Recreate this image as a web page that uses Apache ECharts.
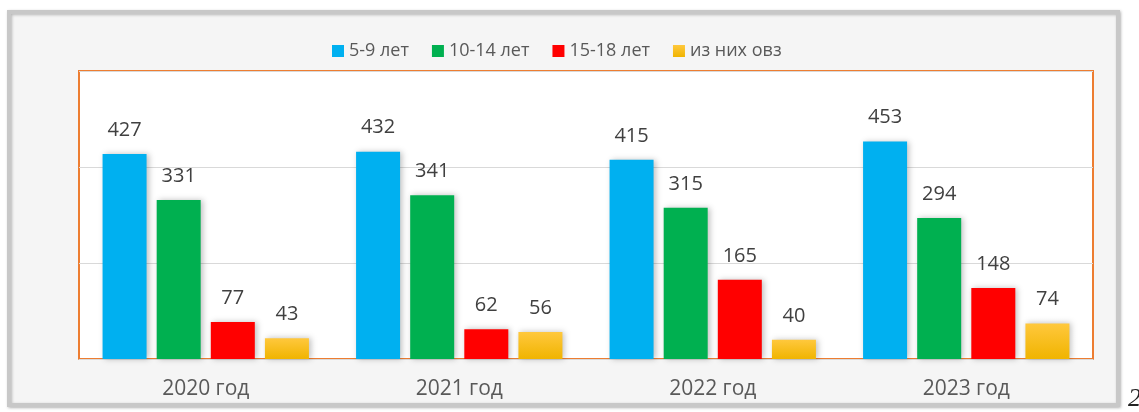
<!DOCTYPE html>
<html>
<head>
    <meta charset="utf-8">
    <title>ECharts</title>
    <script src="https://cdn.jsdelivr.net/npm/echarts@6/dist/echarts.min.js"></script>
    <style>
        body { margin: 0; background: #fff; }
        #main { width: 1139px; height: 412px; }
    </style>
</head>
<body>
    <div id="main"></div>
    <script type="text/javascript">
        var years = ['2020 год', '2021 год', '2022 год', '2023 год'];
        var age5to9 = [427, 432, 415, 453];
        var age10to14 = [331, 341, 315, 294];
        var age15to18 = [77, 62, 165, 148];
        var ovz = [43, 56, 40, 74];

        var myChart = echarts.init(document.getElementById('main'));
        var font = '"Open Sans", "Noto Sans", sans-serif';

        function bar(name, data, color) {
            return {
                name: name,
                type: 'bar',
                data: data,
                barWidth: 44,
                barGap: '23%',
                itemStyle: {
                    color: color,
                    shadowColor: 'rgba(0,0,0,0.25)',
                    shadowBlur: 6,
                    shadowOffsetX: 2,
                    shadowOffsetY: 0
                },
                label: {
                    show: true,
                    position: 'top',
                    distance: 14,
                    color: '#404040',
                    fontSize: 20,
                    fontFamily: font
                }
            };
        }

        var option = {
            backgroundColor: '#fff',
            graphic: [
                {
                    type: 'rect',
                    z: -10,
                    shape: { x: 9, y: 12, width: 1109, height: 393 },
                    style: {
                        fill: '#f5f5f5',
                        stroke: '#c8c8c8',
                        lineWidth: 4,
                        shadowColor: 'rgba(0,0,0,0.25)',
                        shadowBlur: 3,
                        shadowOffsetX: 1,
                        shadowOffsetY: 1
                    }
                },
                {
                    type: 'text',
                    left: 1128,
                    top: 386,
                    style: { text: '2', fill: '#222', font: 'italic 26px "Liberation Serif", serif' }
                }
            ],
            legend: {
                top: 37,
                left: 327,
                itemWidth: 12,
                itemHeight: 12,
                itemGap: 23,
                icon: 'rect',
                textStyle: { color: '#595959', fontSize: 18, fontFamily: font },
                data: ['5-9 лет', '10-14 лет', '15-18 лет', 'из них овз']
            },
            grid: {
                left: 79,
                right: 46,
                top: 71,
                bottom: 53,
                show: true,
                backgroundColor: '#fff',
                borderColor: '#ed7d31',
                borderWidth: 2
            },
            xAxis: {
                type: 'category',
                data: years,
                axisTick: { show: false },
                axisLine: { lineStyle: { color: '#d9d9d9', width: 1 } },
                axisLabel: { color: '#595959', fontSize: 21, fontFamily: font, margin: 20 }
            },
            yAxis: {
                type: 'value',
                min: 0,
                max: 600,
                interval: 200,
                axisLabel: { show: false },
                axisLine: { show: false },
                axisTick: { show: false },
                splitLine: { lineStyle: { color: '#d9d9d9', width: 1 } }
            },
            series: [
                bar('5-9 лет', age5to9, '#00b0f0'),
                bar('10-14 лет', age10to14, '#00b050'),
                bar('15-18 лет', age15to18, '#ff0000'),
                bar('из них овз', ovz, new echarts.graphic.LinearGradient(0, 0, 0, 1, [
                    { offset: 0, color: '#ffc83d' },
                    { offset: 1, color: '#f0b400' }
                ]))
            ]
        };

        myChart.setOption(option);
    </script>
</body>
</html>
